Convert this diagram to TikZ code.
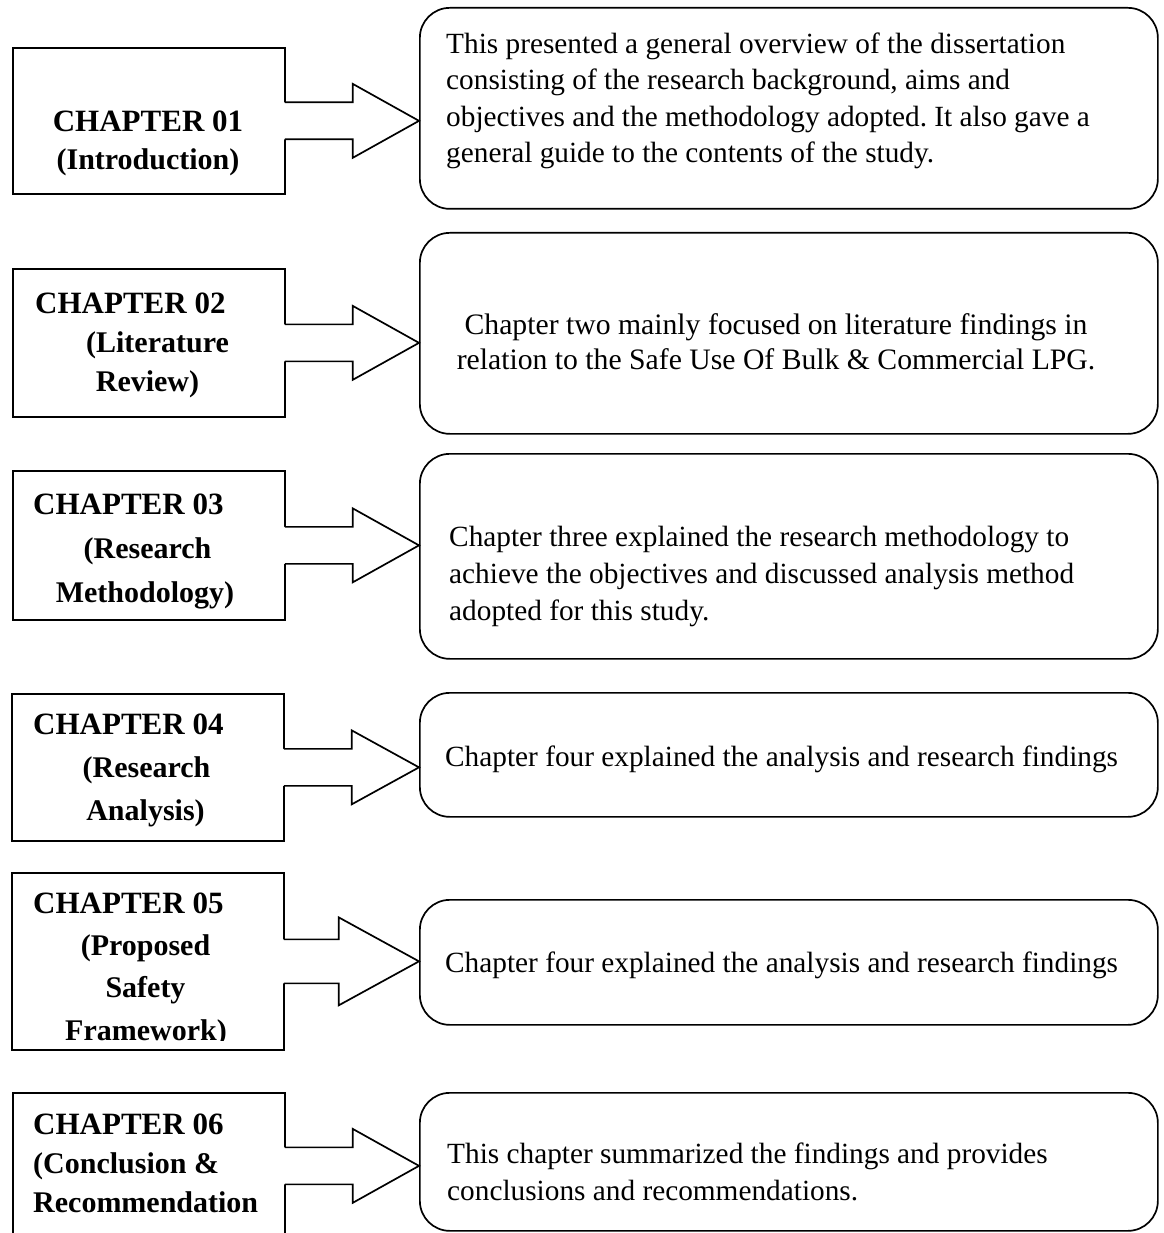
\documentclass[tikz,border=0pt]{standalone}
\usepackage{fontspec}
\setmainfont{Liberation Serif}
\usetikzlibrary{calc}
\frenchspacing
\newcommand\ChapArrow[5]{%
  \fill[white] ($(#1.east)+(-1.5,-#3)$) -- ($(#1.east)+(#5,-#3)$) -- ($(#1.east)+(#5,-#4)$)
     -- (#1.east -| #2.west) -- ($(#1.east)+(#5,#4)$) -- ($(#1.east)+(#5,#3)$) -- ($(#1.east)+(-1.5,#3)$) -- cycle;
  \draw[arrowline] ($(#1.east)+(-0.8,-#3)$) -- ($(#1.east)+(#5,-#3)$) -- ($(#1.east)+(#5,-#4)$)
     -- (#1.east -| #2.west) -- ($(#1.east)+(#5,#4)$) -- ($(#1.east)+(#5,#3)$) -- ($(#1.east)+(-0.8,#3)$);
}
\begin{document}
\begin{tikzpicture}[x=1pt,y=-1pt,
  lbox/.style={draw, line width=1.7pt, rectangle, inner sep=0pt, anchor=north west, minimum width=272pt},
  rbox/.style={draw, line width=1.7pt, rectangle, rounded corners=30pt, inner sep=0pt, anchor=north west, minimum width=738pt},
  chap/.style={font=\bfseries\fontsize{31}{36}\selectfont, inner sep=0pt, anchor=base west},
  sub/.style={font=\bfseries\fontsize{30}{36}\selectfont, inner sep=0pt, anchor=base},
  body/.style={font=\fontsize{29.3}{36}\selectfont, inner sep=0pt, anchor=base west},
  arrowline/.style={line width=1.7pt, line join=miter}]
\clip (0,0) rectangle (1163,1233);
\fill[white] (0,0) rectangle (1163,1233);

% left chapter boxes
\node[lbox, minimum height=146pt] (L1) at (12,47) {};
\node[lbox, minimum height=148pt] (L2) at (12,268) {};
\node[lbox, minimum height=149pt] (L3) at (12,470) {};
\node[lbox, minimum height=147pt] (L4) at (11,693) {};
\node[lbox, minimum height=177pt] (L5) at (11,872) {};
\node[lbox, minimum height=146pt] (L6) at (12,1092) {};

% right summary boxes
\node[rbox, minimum height=201pt] (R1) at (419,7) {};
\node[rbox, minimum height=201pt] (R2) at (419,232) {};
\node[rbox, minimum height=205pt] (R3) at (419,453) {};
\node[rbox, minimum height=124pt] (R4) at (419,692) {};
\node[rbox, minimum height=125pt] (R5) at (419,899) {};
\node[rbox, minimum height=138pt] (R6) at (419,1092) {};

% block arrows
\ChapArrow{L1}{R1}{18.5}{37}{67}
\ChapArrow{L2}{R2}{18.5}{37}{67}
\ChapArrow{L3}{R3}{18.5}{37}{67}
\ChapArrow{L4}{R4}{18.5}{37}{67}
\ChapArrow{L5}{R5}{22}{44}{54}
\ChapArrow{L6}{R6}{18.5}{37}{67}

% left texts
\node[chap, anchor=base] (t1a) at (148,132) {CHAPTER 01};
\node[sub] (t1b) at (148,170) {(Introduction)};

\node[chap] (t2a) at (35,313) {CHAPTER 02};
\node[sub] (t2b) at (157.5,352) {(Literature};
\node[sub] (t2c) at (147.5,391) {Review)};

\node[chap] (t3a) at (33,514) {CHAPTER 03};
\node[sub] (t3b) at (147.5,558) {(Research};
\node[sub] (t3c) at (145,602) {Methodology)};

\node[chap] (t4a) at (33,734) {CHAPTER 04};
\node[sub] (t4b) at (146.5,777) {(Research};
\node[sub] (t4c) at (145.5,820) {Analysis)};

\begin{scope}
\clip (11,872) rectangle (283,1040);
\node[chap] (t5a) at (33,913) {CHAPTER 05};
\node[sub] (t5b) at (145.5,955) {(Proposed};
\node[sub] (t5c) at (145.5,997) {Safety};
\node[sub] (t5d) at (146,1040) {Framework)};
\end{scope}

\node[chap] (t6a) at (33,1134) {CHAPTER 06};
\node[sub, anchor=base west] (t6b) at (33,1173) {(Conclusion \&};
\node[sub, anchor=base west] (t6c) at (33,1212) {Recommendation};

% right texts
\node[body] (r1a) at (446,54) {This presented a general overview of the dissertation};
\node[body] (r1b) at (446,90) {consisting of the research background, aims and};
\node[body] (r1c) at (446,127) {objectives and the methodology adopted. It also gave a};
\node[body] (r1d) at (446,163) {general guide to the contents of the study.};

\node[body, anchor=base, font=\fontsize{29.7}{36}\selectfont] (r2a) at (776,334) {Chapter two mainly focused on literature findings in};
\node[body, anchor=base, font=\fontsize{29.7}{36}\selectfont] (r2b) at (776,369) {relation to the Safe Use Of Bulk \& Commercial LPG.};

\node[body] (r3a) at (449,546) {Chapter three explained the research methodology to};
\node[body] (r3b) at (449,583) {achieve the objectives and discussed analysis method};
\node[body] (r3c) at (449,620) {adopted for this study.};

\node[body] (r4a) at (445,766) {Chapter four explained the analysis and research findings};

\node[body] (r5a) at (445,972) {Chapter four explained the analysis and research findings};

\node[body] (r6a) at (447,1163) {This chapter summarized the findings and provides};
\node[body] (r6b) at (447,1200) {conclusions and recommendations.};
\end{tikzpicture}
\end{document}
